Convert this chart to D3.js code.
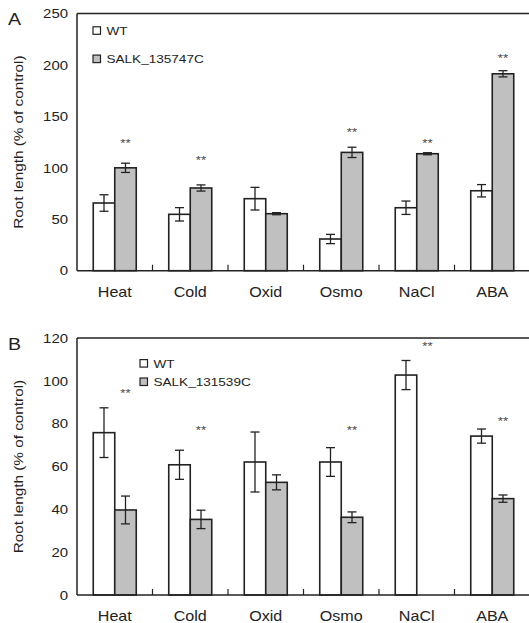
<!DOCTYPE html>
<html>
<head>
<meta charset="utf-8">
<script src="https://cdn.jsdelivr.net/npm/d3@7"></script>
<style>
  body { margin: 0; background: #fff; }
  svg { display: block; }
</style>
</head>
<body>
<svg></svg>
<script>
let categories = ['Heat', 'Cold', 'Oxid', 'Osmo', 'NaCl', 'ABA'];
let seriesA = ['WT', 'SALK_135747C'];
let seriesB = ['WT', 'SALK_131539C'];

let wtA = [65.8, 54.8, 70, 30.8, 61.2, 77.7];
let wtAErr = [8, 6.5, 11, 4.5, 6.5, 6];
let salkA = [100, 80.4, 55.4, 115, 113.7, 191.4];
let salkAErr = [4.5, 3, 1, 5, 1, 3];
let starsA = [127, 110, null, 137, 127, 209];

let wtB = [75.8, 60.8, 62.1, 62.1, 102.7, 74.2];
let wtBErr = [11.6, 6.8, 14, 6.7, 6.8, 3.3];
let salkB = [39.7, 35.3, 52.6, 36.3, null, 45];
let salkBErr = [6.5, 4.3, 3.5, 2.5, null, 1.7];
let starsB = [95.4, 78.1, null, 78.1, 117.3, 82.3];

let ticksA = [0, 50, 100, 150, 200, 250];
let ticksB = [0, 20, 40, 60, 80, 100, 120];

let width = 529;
let height = 623;
let ink = '#222';
let grey = '#c0c0c0';
let stretch = 1.15; // the original lettering is wider than Arial

let svg = d3.select('svg')
    .attr('width', width)
    .attr('height', height)
    .attr('font-family', 'Liberation Sans, Arial, sans-serif');

let panels = [
    { letter: 'A', series: seriesA, vals: [wtA, salkA], errs: [wtAErr, salkAErr], stars: starsA,
      ticks: ticksA, top: 13.5, bottom: 270.7, letterY: 25, legX: 93, legY: [30.5, 58.8] },
    { letter: 'B', series: seriesB, vals: [wtB, salkB], errs: [wtBErr, salkBErr], stars: starsB,
      ticks: ticksB, top: 338, bottom: 595, letterY: 350, legX: 140, legY: [363.3, 381.7] }
];

let left = 77, right = 530;

panels.forEach(p => {
    let g = svg.append('g');
    let y = d3.scaleLinear()
        .domain([0, d3.max(p.ticks)])
        .range([p.bottom, p.top]);
    let x0 = d3.scaleBand()
        .domain(categories)
        .range([left, right]);
    let bw = x0.bandwidth();
    let x1 = d3.scaleBand()
        .domain(p.series)
        .range([bw / 2 - 21.5, bw / 2 + 21.5]);

    // frame
    g.append('line').attr('x1', left).attr('x2', right).attr('y1', p.top).attr('y2', p.top)
        .attr('stroke', ink).attr('stroke-width', 1.5);
    g.append('line').attr('x1', left).attr('x2', left).attr('y1', p.top).attr('y2', p.bottom)
        .attr('stroke', ink).attr('stroke-width', 1.5);

    // y tick labels
    g.selectAll('.ytick')
        .data(p.ticks)
        .enter()
        .append('text')
        .attr('transform', d => `translate(68, ${y(d)}) scale(${stretch}, 1)`)
        .attr('dy', '0.36em')
        .attr('text-anchor', 'end')
        .attr('font-size', 13)
        .attr('fill', ink)
        .text(d => d);

    // y title
    g.append('text')
        .attr('transform', `translate(18.5, ${(p.top + p.bottom) / 2}) rotate(-90) scale(${stretch}, 1)`)
        .attr('dy', '0.36em')
        .attr('text-anchor', 'middle')
        .attr('font-size', 13.3)
        .attr('fill', ink)
        .text('Root length (% of control)');

    // panel letter
    g.append('text')
        .attr('transform', `translate(8, ${p.letterY}) scale(${stretch}, 1)`)
        .attr('font-size', 17)
        .attr('fill', ink)
        .text(p.letter);

    // bars
    let rows = [];
    categories.forEach((c, i) => {
        p.series.forEach((s, j) => {
            if (p.vals[j][i] != null) rows.push({ c, s, j, v: p.vals[j][i], e: p.errs[j][i] });
        });
    });

    let groups = g.selectAll('.bar')
        .data(rows)
        .enter()
        .append('g')
        .attr('transform', d => `translate(${x0(d.c) + x1(d.s)}, 0)`);

    groups.append('rect')
        .attr('x', 0)
        .attr('width', x1.bandwidth())
        .attr('y', d => y(d.v))
        .attr('height', d => y(0) - y(d.v))
        .attr('fill', d => d.j === 0 ? '#fff' : grey)
        .attr('stroke', ink)
        .attr('stroke-width', 1.6);

    let cx = x1.bandwidth() / 2;
    groups.append('line')
        .attr('x1', cx).attr('x2', cx)
        .attr('y1', d => y(d.v + d.e)).attr('y2', d => y(d.v - d.e))
        .attr('stroke', ink).attr('stroke-width', 1.3);
    groups.append('line')
        .attr('x1', cx - 4.5).attr('x2', cx + 4.5)
        .attr('y1', d => y(d.v + d.e)).attr('y2', d => y(d.v + d.e))
        .attr('stroke', ink).attr('stroke-width', 1.3);
    groups.append('line')
        .attr('x1', cx - 4.5).attr('x2', cx + 4.5)
        .attr('y1', d => y(d.v - d.e)).attr('y2', d => y(d.v - d.e))
        .attr('stroke', ink).attr('stroke-width', 1.3);

    // significance stars
    g.selectAll('.star')
        .data(categories.map((c, i) => ({ c, v: p.stars[i] })).filter(d => d.v != null))
        .enter()
        .append('text')
        .attr('transform', d => `translate(${x0(d.c) + x1(p.series[1]) + x1.bandwidth() / 2}, ${y(d.v) + 6.5}) scale(${stretch}, 1)`)
        .attr('text-anchor', 'middle')
        .attr('font-size', 11.5)
        .attr('fill', '#444')
        .text('**');

    // x axis
    g.append('line').attr('x1', left).attr('x2', right).attr('y1', p.bottom).attr('y2', p.bottom)
        .attr('stroke', ink).attr('stroke-width', 1.5);
    g.selectAll('.sep')
        .data(categories.slice(1))
        .enter()
        .append('line')
        .attr('x1', d => x0(d)).attr('x2', d => x0(d))
        .attr('y1', p.bottom).attr('y2', p.bottom - 6)
        .attr('stroke', ink).attr('stroke-width', 1.2);
    g.selectAll('.xlab')
        .data(categories)
        .enter()
        .append('text')
        .attr('transform', d => `translate(${x0(d) + bw / 2}, ${p.bottom + 21}) scale(${stretch}, 1)`)
        .attr('dy', '0.36em')
        .attr('text-anchor', 'middle')
        .attr('font-size', 14)
        .attr('fill', ink)
        .text(d => d);

    // legend
    p.series.forEach((s, j) => {
        g.append('rect')
            .attr('x', p.legX)
            .attr('y', p.legY[j] - 3.7)
            .attr('width', 7.5)
            .attr('height', 7.5)
            .attr('fill', j === 0 ? '#fff' : grey)
            .attr('stroke', ink)
            .attr('stroke-width', 1.2);
        g.append('text')
            .attr('transform', `translate(${p.legX + 13.5}, ${p.legY[j]}) scale(${stretch}, 1)`)
            .attr('dy', '0.36em')
            .attr('font-size', 11.8)
            .attr('fill', ink)
            .text(s);
    });
});
</script>
</body>
</html>
